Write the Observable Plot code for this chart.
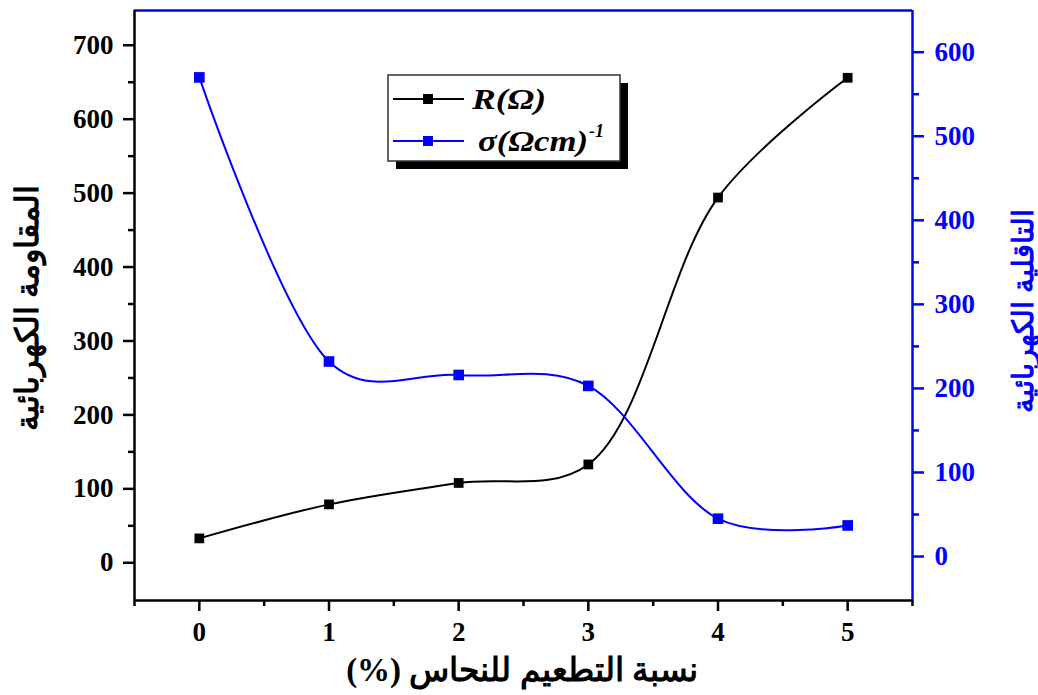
<!DOCTYPE html>
<html>
<head>
<meta charset="utf-8">
<script src="https://cdn.jsdelivr.net/npm/d3@7"></script>
<script src="https://cdn.jsdelivr.net/npm/@observablehq/plot@0.6"></script>
<style>
  html, body { margin: 0; padding: 0; background: #fff; }
  #chart { position: relative; width: 1038px; height: 695px; }
  svg text { font-family: "Liberation Serif", "DejaVu Serif", serif; }
</style>
</head>
<body>
<div id="chart"></div>
<script>
// ---- data ----
const dopingPct = [0, 1, 2, 3, 4, 5];
const resistance = [33, 79, 108, 133, 494, 656];        // R (Ω), left axis
const conductivity = [570, 232, 216, 203, 45, 37];      // σ (Ωcm)^-1, right axis
const xTicks = [0, 1, 2, 3, 4, 5];
const xMinorTicks = [-0.5, 0.5, 1.5, 2.5, 3.5, 4.5, 5.5];
const leftTicks = [0, 100, 200, 300, 400, 500, 600, 700];
const leftMinorTicks = [50, 150, 250, 350, 450, 550, 650];
const rightTicks = [0, 100, 200, 300, 400, 500, 600];
const rightMinorTicks = [50, 150, 250, 350, 450, 550];
const xTitle = "نسبة التطعيم للنحاس (%)";
const leftTitle = "المقاومة الكهربائية";
const rightTitle = "التاقلية الكهربائية";
const seriesNames = ["R(Ω)", "σ(Ωcm)"];

// ---- scales ----
const xDomain = [-0.5, 5.5];
const leftDomain = [-51, 747];
const rightDomain = [-52.3, 649.6];
const toLeft = d3.scaleLinear().domain(rightDomain).range(leftDomain);

const rData = dopingPct.map((x, i) => ({x, y: resistance[i]}));
const sData = dopingPct.map((x, i) => ({x, y: toLeft(conductivity[i])}));

const BLUE = "#0000ff";
const tickFont = {fontSize: 27, fontWeight: "bold"};

const plot = Plot.plot({
  width: 1038,
  height: 695,
  marginLeft: 134,
  marginRight: 126,
  marginTop: 10,
  marginBottom: 95,
  style: {fontFamily: "'Liberation Serif', serif", background: "white", overflow: "visible"},
  x: {domain: xDomain, axis: null},
  y: {domain: leftDomain, axis: null},
  marks: [
    // curves
    Plot.line(rData, {x: "x", y: "y", curve: "catmull-rom", tension: 0.5, stroke: "black", strokeWidth: 2}),
    Plot.line(sData, {x: "x", y: "y", curve: "catmull-rom", tension: 0.2, stroke: BLUE, strokeWidth: 2}),
    Plot.dot(rData, {x: "x", y: "y", symbol: "square", r: 5.5, fill: "black", stroke: "none"}),
    Plot.dot(sData, {x: "x", y: "y", symbol: "square", r: 6, fill: BLUE, stroke: "none"}),
    // bottom axis
    Plot.axisX(xTicks, {anchor: "bottom", label: null, tickSize: 11, tickPadding: 10, strokeWidth: 2.5, ...tickFont, color: "black",
      tickFormat: d => String(d)}),
    Plot.axisX(xMinorTicks, {anchor: "bottom", label: null, tickSize: 6, strokeWidth: 2.5, tickFormat: () => "", color: "black"}),
    // left axis
    Plot.axisY(leftTicks, {anchor: "left", label: null, tickSize: 11, tickPadding: 10, strokeWidth: 2.5, ...tickFont, color: "black",
      tickFormat: d => String(d)}),
    Plot.axisY(leftMinorTicks, {anchor: "left", label: null, tickSize: 6, strokeWidth: 2.5, tickFormat: () => "", color: "black"}),
    // right axis (σ)
    Plot.axisY(rightTicks.map(toLeft), {anchor: "right", label: null, tickSize: 11, tickPadding: 11, strokeWidth: 2.5, ...tickFont, color: BLUE,
      tickFormat: d => String(Math.round(toLeft.invert(d)))}),
    Plot.axisY(rightMinorTicks.map(toLeft), {anchor: "right", label: null, tickSize: 6, strokeWidth: 2.5, tickFormat: () => "", color: BLUE}),
    // frame
    Plot.ruleY([leftDomain[1]], {stroke: BLUE, strokeWidth: 2.5}),
    Plot.ruleY([leftDomain[0]], {stroke: "black", strokeWidth: 2.5}),
    Plot.ruleX([xDomain[0]], {stroke: "black", strokeWidth: 2.5}),
    Plot.ruleX([xDomain[1]], {stroke: BLUE, strokeWidth: 2.5})
  ]
});
document.getElementById("chart").appendChild(plot);

// ---- axis titles & legend ----
const svg = d3.select(plot);
const arabicFont = "'Liberation Serif', 'DejaVu Sans', sans-serif";
svg.append("text")
  .attr("x", 522).attr("y", 681)
  .attr("text-anchor", "middle")
  .attr("direction", "rtl")
  .attr("font-family", arabicFont)
  .attr("font-weight", "bold").attr("font-size", 33)
  .attr("fill", "black")
  .text(xTitle);
svg.append("text")
  .attr("transform", "translate(38,308) rotate(-90)")
  .attr("text-anchor", "middle")
  .attr("direction", "rtl")
  .attr("font-family", arabicFont)
  .attr("font-weight", "bold").attr("font-size", 32)
  .attr("fill", "black")
  .text(leftTitle);
svg.append("text")
  .attr("transform", "translate(1033,311) rotate(-90)")
  .attr("text-anchor", "middle")
  .attr("direction", "rtl")
  .attr("font-family", arabicFont)
  .attr("font-weight", "bold").attr("font-size", 29)
  .attr("fill", BLUE)
  .text(rightTitle);

// legend
const lg = svg.append("g");
lg.append("rect").attr("x", 396).attr("y", 83).attr("width", 232).attr("height", 86).attr("fill", "black");
lg.append("rect").attr("x", 388).attr("y", 75).attr("width", 232).attr("height", 86)
  .attr("fill", "white").attr("stroke", "#333").attr("stroke-width", 1.5);
const items = [
  {c: "black", y: 99, x: 472, len: 74, name: seriesNames[0], sup: ""},
  {c: BLUE, y: 141, x: 478, len: 110, name: seriesNames[1], sup: "-1"}
];
items.forEach(it => {
  lg.append("line").attr("x1", 393).attr("x2", 464).attr("y1", it.y).attr("y2", it.y)
    .attr("stroke", it.c).attr("stroke-width", 2);
  lg.append("rect").attr("x", 423).attr("y", it.y - 5).attr("width", 10).attr("height", 10).attr("fill", it.c);
  const t = lg.append("text").attr("x", it.x).attr("y", it.y + 10)
    .attr("text-anchor", "start")
    .attr("font-family", "'Liberation Sans', Arial, sans-serif")
    .attr("font-style", "italic").attr("font-weight", "bold").attr("font-size", 29)
    .attr("fill", "black");
  t.append("tspan").attr("textLength", it.len).attr("lengthAdjust", "spacingAndGlyphs").text(it.name);
  if (it.sup) t.append("tspan").attr("font-size", 18).attr("dy", -14).attr("dx", 1).text(it.sup);
});
</script>
</body>
</html>
